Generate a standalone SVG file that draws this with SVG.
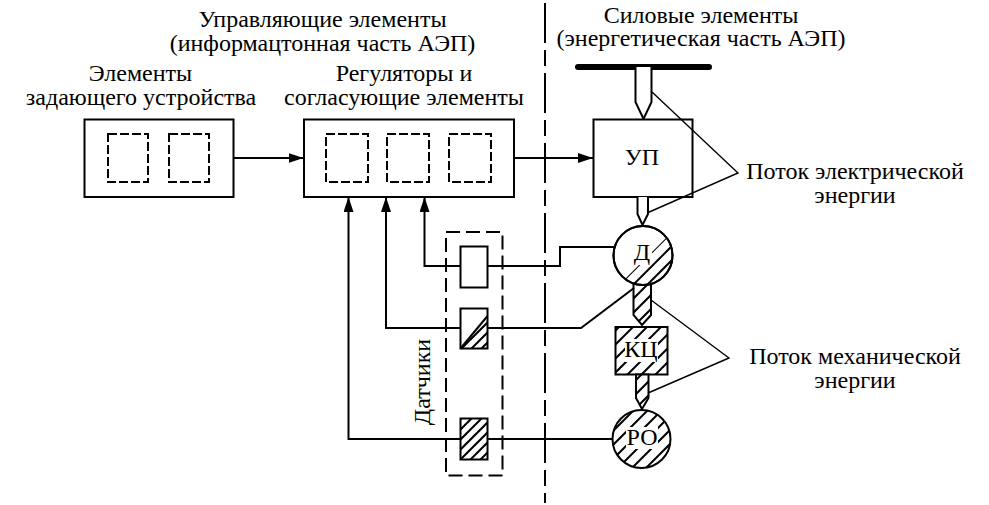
<svg xmlns="http://www.w3.org/2000/svg" width="989" height="505" viewBox="0 0 989 505">
<style>
text{font-family:"Liberation Serif","Times New Roman",serif;font-size:24px;fill:#000;text-anchor:middle}
.b{fill:none;stroke:#000;stroke-width:2}
.w{fill:#fff;stroke:#000;stroke-width:2}
.d{fill:none;stroke:#000;stroke-width:2;stroke-dasharray:9 3}
.l{fill:none;stroke:#000;stroke-width:2}
.t{fill:none;stroke:#000;stroke-width:1.400}
.hl{fill:none;stroke:#000;stroke-width:2}
</style>
<defs>
<path id="hA" class="hl" d="M704 200l-300 300m314-300l-300 300m314-300l-300 300m314-300l-300 300m314-300l-300 300m314-300l-300 300m314-300l-300 300m314-300l-300 300m314-300l-300 300m314-300l-300 300m314-300l-300 300m314-300l-300 300m314-300l-300 300m314-300l-300 300m314-300l-300 300m314-300l-300 300m314-300l-300 300m314-300l-300 300"/>
<path id="hB" class="hl" d="M580 200l-300 300m310-300l-300 300m310-300l-300 300m310-300l-300 300m310-300l-300 300m310-300l-300 300m310-300l-300 300m310-300l-300 300m310-300l-300 300m310-300l-300 300m310-300l-300 300m310-300l-300 300m310-300l-300 300m310-300l-300 300m310-300l-300 300m310-300l-300 300m310-300l-300 300m310-300l-300 300"/>
<marker id="a" markerUnits="userSpaceOnUse" markerWidth="16" markerHeight="12" refX="15" refY="5" orient="auto"><path d="M0 0L15 5L0 10z" fill="#000"/></marker>
<clipPath id="cD"><path d="M614 290L680 224V290z"/></clipPath>
<clipPath id="cD2"><circle cx="643" cy="255.500" r="29"/></clipPath>
<clipPath id="cF3"><path d="M633.500 283V315L642 325L651 315V283z"/></clipPath>
<clipPath id="cKC"><rect x="615.500" y="327" width="52" height="47.500"/></clipPath>
<clipPath id="cF4"><path d="M636 374.500V398L642 409L648.500 398V374.500z"/></clipPath>
<clipPath id="cRO"><circle cx="641.500" cy="439" r="29"/></clipPath>
<clipPath id="cS2"><path d="M460.500 348.500L487.500 316V348.500z"/></clipPath>
<clipPath id="cS3"><rect x="460.500" y="418.500" width="27" height="41"/></clipPath>
</defs>
<g id="bus"><path d="M578 67H709" stroke="#000" stroke-width="6" stroke-linecap="round"/></g>
<g id="elements-box"><rect class="w" x="84.500" y="119.500" width="149" height="77.500"/><rect class="d" x="108" y="134" width="40" height="48"/><rect class="d" x="169" y="134" width="40" height="48"/></g>
<g id="regulators-box"><rect class="w" x="304" y="119.500" width="210" height="77.500"/><rect class="d" x="326" y="134" width="42" height="48"/><rect class="d" x="387" y="134" width="42" height="48"/><rect class="d" x="449" y="134" width="42" height="48"/></g>
<g id="flow1"><path class="w" d="M635.500 67V102L643.500 119L651.500 102V67"/></g>
<g id="up"><rect class="w" x="593.500" y="119.500" width="99" height="77.500"/><text x="642" y="165">УП</text></g>
<g id="flow2"><path class="w" d="M637.500 197V214L642.500 225L648 214V197"/></g>
<g id="flow3"><path class="w" d="M633.500 283V315L642 325L651 315V283z"/><use href="#hA" clip-path="url(#cF3)"/></g>
<g id="d-motor"><circle class="w" cx="643" cy="255.500" r="29.500"/><g clip-path="url(#cD2)"><use href="#hA" clip-path="url(#cD)"/></g><circle class="b" cx="643" cy="255.500" r="29.500"/><rect x="632" y="241" width="20" height="24" fill="#fff"/><text x="642" y="260">Д</text></g>
<g id="kc"><rect class="w" x="615.500" y="327" width="52" height="47.500"/><use href="#hA" clip-path="url(#cKC)"/><rect x="625" y="339" width="33" height="23" fill="#fff"/><text x="641" y="357">КЦ</text></g>
<g id="flow4"><path class="w" d="M636 374.500V398L642 409L648.500 398V374.500z"/><use href="#hA" clip-path="url(#cF4)"/></g>
<g id="ro"><circle class="w" cx="641.500" cy="439" r="29"/><use href="#hA" clip-path="url(#cRO)"/><rect x="626" y="427" width="32" height="22" fill="#fff"/><text x="642" y="445">РО</text></g>
<g id="sensors"><rect class="d" x="446" y="232" width="56.500" height="243.500" style="stroke-dasharray:14 6"/>
<rect class="w" x="460.500" y="246.500" width="27" height="41"/>
<rect class="w" x="460.500" y="308.500" width="27" height="40"/>
<use href="#hB" clip-path="url(#cS2)"/><path class="b" d="M460.500 348.500L487.500 316"/>
<rect class="w" x="460.500" y="418.500" width="27" height="41"/><use href="#hB" clip-path="url(#cS3)"/>
<text transform="translate(430 382) rotate(-90)">Датчики</text></g>
<g id="labels">
<text x="322.500" y="27">Управляющие элементы</text>
<text x="322.500" y="51">(информацтонная часть АЭП)</text>
<text x="140.500" y="81">Элементы</text>
<text x="141" y="105">задающего устройства</text>
<text x="404" y="81">Регуляторы и</text>
<text x="404" y="105">согласующие элементы</text>
<text x="701" y="23">Силовые элементы</text>
<text x="701" y="46">(энергетическая часть АЭП)</text>
<text x="855" y="179">Поток электрической</text>
<text x="855" y="203">энергии</text>
<text x="855" y="364">Поток механической</text>
<text x="855" y="388">энергии</text>
</g>
<g id="connectors">
<path class="l" d="M233 158H303.500" marker-end="url(#a)"/>
<path class="l" d="M514 158H593" marker-end="url(#a)"/>
<path class="l" d="M460 266H424.500V197" marker-end="url(#a)"/>
<path class="l" d="M460 328H386V197" marker-end="url(#a)"/>
<path class="l" d="M460 439H348.500V197" marker-end="url(#a)"/>
<path class="l" d="M488 266H560V247H614"/>
<path class="l" d="M488 328H581L634 288"/>
<path class="l" d="M488 439H612"/>
<path class="t" d="M652 92L738 173L647 213"/>
<path class="t" d="M651 300L729 358L648 393"/>
<path d="M545 3V503" fill="none" stroke="#000" stroke-width="2" stroke-dasharray="40 7 16 7"/>
</g>
</svg>
